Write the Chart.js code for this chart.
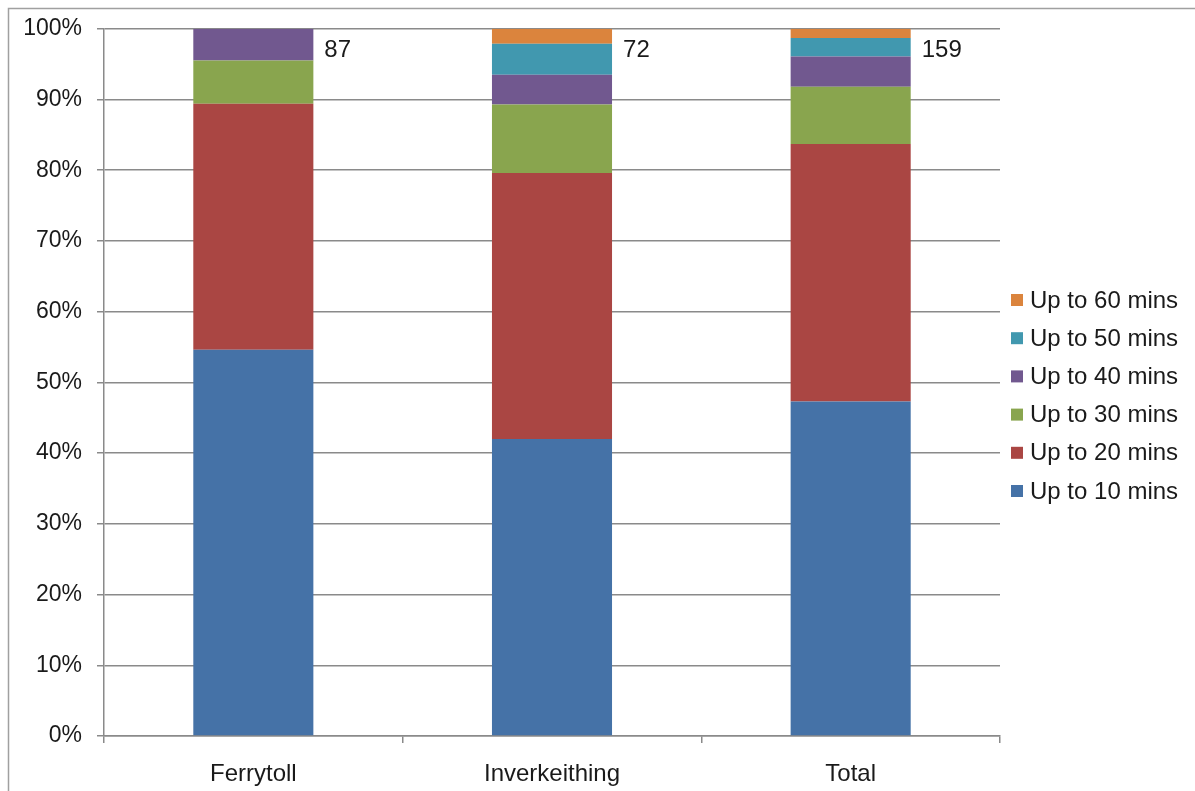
<!DOCTYPE html>
<html>
<head>
<meta charset="utf-8">
<script src="https://cdn.jsdelivr.net/npm/chart.js@4/dist/chart.umd.min.js"></script>
<style>
  html, body { margin: 0; padding: 0; background: #ffffff; }
  #wrap { position: relative; width: 1195px; height: 791px; }
</style>
</head>
<body>
<div id="wrap"><canvas id="c" width="1195" height="791"></canvas></div>
<script>
// Travel time bands by site, share of respondents (%)
const categories = ['Ferrytoll', 'Inverkeithing', 'Total'];
const sampleSizes = [87, 72, 159];
const upTo10 = [54.6, 42.0, 47.3];
const upTo20 = [34.8, 37.6, 36.4];
const upTo30 = [6.1, 9.7, 8.1];
const upTo40 = [4.5, 4.2, 4.3];
const upTo50 = [0, 4.4, 2.6];
const upTo60 = [0, 2.1, 1.3];
const yTicks = [0, 10, 20, 30, 40, 50, 60, 70, 80, 90, 100];

const FONT = '"Liberation Sans", Arial, sans-serif';
const GRID = '#8a8a8a';
const TEXT = '#1a1a1a';

const series = [
  { label: 'Up to 10 mins', data: upTo10, color: '#4572A7' },
  { label: 'Up to 20 mins', data: upTo20, color: '#AA4643' },
  { label: 'Up to 30 mins', data: upTo30, color: '#89A54E' },
  { label: 'Up to 40 mins', data: upTo40, color: '#71588F' },
  { label: 'Up to 50 mins', data: upTo50, color: '#4198AF' },
  { label: 'Up to 60 mins', data: upTo60, color: '#DB843D' }
];

// Frame edges (left and top) around the chart
const framePlugin = {
  id: 'frame',
  beforeDraw(chart) {
    const ctx = chart.ctx;
    ctx.save();
    ctx.fillStyle = '#ffffff';
    ctx.fillRect(0, 0, chart.width, chart.height);
    ctx.strokeStyle = '#a0a0a0';
    ctx.lineWidth = 1.5;
    ctx.beginPath();
    ctx.moveTo(8.5, chart.height + 2);
    ctx.lineTo(8.5, 8.5);
    ctx.lineTo(chart.width + 2, 8.5);
    ctx.stroke();
    ctx.restore();
  }
};

// Sample size next to the top of each bar
const sampleLabelPlugin = {
  id: 'sampleLabels',
  afterDatasetsDraw(chart) {
    const ctx = chart.ctx;
    const meta = chart.getDatasetMeta(0);
    const yTop = chart.scales.y.getPixelForValue(100);
    ctx.save();
    ctx.font = '24px ' + FONT;
    ctx.fillStyle = TEXT;
    ctx.textAlign = 'left';
    ctx.textBaseline = 'middle';
    meta.data.forEach((bar, i) => {
      const right = bar.x + bar.width / 2;
      ctx.fillText(String(sampleSizes[i]), right + 11, yTop + 22);
    });
    ctx.restore();
  }
};

// Legend on the right, longest band first
const legendPlugin = {
  id: 'sideLegend',
  afterDraw(chart) {
    const ctx = chart.ctx;
    const x0 = chart.chartArea.right + 11;
    const yStart = 300;
    const step = 38.2;
    ctx.save();
    ctx.font = '24px ' + FONT;
    ctx.textBaseline = 'middle';
    ctx.textAlign = 'left';
    const items = series.slice().reverse();
    items.forEach((s, i) => {
      const y = yStart + i * step;
      ctx.fillStyle = s.color;
      ctx.fillRect(x0, y - 6, 12, 12);
      ctx.fillStyle = TEXT;
      ctx.fillText(s.label, x0 + 19, y + 1);
    });
    ctx.restore();
  }
};

new Chart(document.getElementById('c'), {
  type: 'bar',
  data: {
    labels: categories,
    datasets: series.map(s => ({
      label: s.label,
      data: s.data,
      backgroundColor: s.color,
      borderWidth: 0,
      categoryPercentage: 1,
      barPercentage: 0.402
    }))
  },
  options: {
    responsive: false,
    animation: false,
    layout: { padding: { left: 0, right: 195, top: 27, bottom: 0 } },
    plugins: {
      legend: { display: false },
      tooltip: { enabled: false }
    },
    scales: {
      x: {
        stacked: true,
        offset: true,
        grid: {
          offset: true,
          drawOnChartArea: false,
          drawTicks: true,
          tickLength: 7,
          color: GRID,
          lineWidth: 1.5
        },
        border: { display: true, color: GRID, width: 1.5 },
        ticks: {
          color: TEXT,
          font: { family: FONT, size: 24 },
          padding: 17,
          maxRotation: 0
        },
        afterFit(scale) { scale.height = 55; }
      },
      y: {
        stacked: true,
        min: 0,
        max: 100,
        afterBuildTicks(scale) { scale.ticks = yTicks.map(v => ({ value: v })); },
        grid: {
          color: GRID,
          lineWidth: 1.5,
          drawTicks: true,
          tickLength: 7
        },
        border: { display: true, color: GRID, width: 1.5 },
        ticks: {
          color: TEXT,
          font: { family: FONT, size: 23 },
          padding: 15,
          callback: v => v + '%'
        },
        afterFit(scale) { scale.width = 104; }
      }
    }
  },
  plugins: [framePlugin, sampleLabelPlugin, legendPlugin]
});
</script>
</body>
</html>
